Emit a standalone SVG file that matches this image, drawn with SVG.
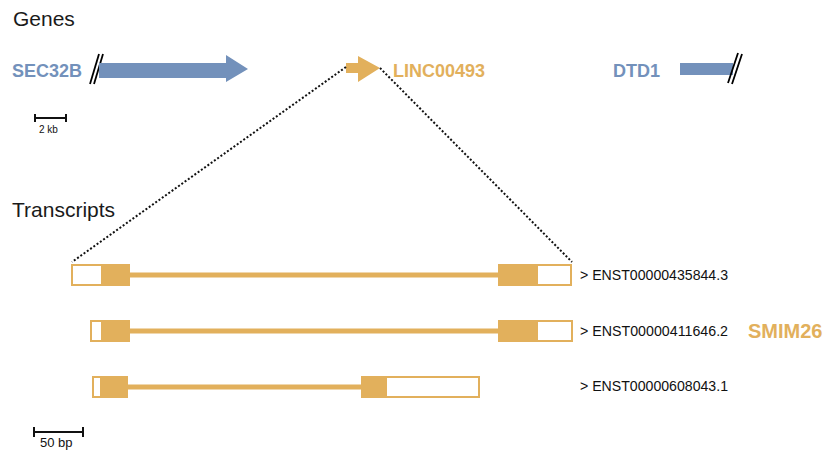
<svg xmlns="http://www.w3.org/2000/svg" width="823" height="450" viewBox="0 0 823 450">
<style>
.hdr{font-family:"Liberation Sans",Arial,sans-serif;font-size:21px;fill:#1a1a1a}
.gb{font-family:"Liberation Sans",Arial,sans-serif;font-weight:bold;font-size:18px;fill:#7391bb}
.gg{font-family:"Liberation Sans",Arial,sans-serif;font-weight:bold;font-size:18px;fill:#e2b05c}
.lbl{font-family:"Liberation Sans",Arial,sans-serif;font-size:14px;fill:#111}
.sc{font-family:"Liberation Sans",Arial,sans-serif;font-size:10px;fill:#111}
.blue{fill:#7391bb}
.gold{fill:#e2b05c}
.utr{fill:#fff;stroke:#e2b05c;stroke-width:2}
.intron{stroke:#e2b05c;stroke-width:5}
.slash{stroke:#000;stroke-width:1.8}
.dot{fill:none;stroke:#111;stroke-width:2;stroke-dasharray:2 2}
.bar{stroke:#111;stroke-width:2;fill:none}
</style>
<text class="hdr" x="13" y="26">Genes</text>
<text class="hdr" x="12" y="217">Transcripts</text>
<g id="sec32b">
<text class="gb" x="12" y="77">SEC32B</text>
<line class="slash" x1="90" y1="84" x2="99" y2="54"/>
<line class="slash" x1="94" y1="84" x2="103" y2="54"/>
<polygon class="blue" points="99,63 226,63 226,55 248,69 226,82 226,78 99,78"/>
</g>
<g id="linc00493">
<polygon class="gold" points="346,63 358,63 358,56 380,68 358,82 358,73 346,73"/>
<text class="gg" x="393" y="77">LINC00493</text>
</g>
<g id="dtd1">
<text class="gb" x="613" y="77">DTD1</text>
<rect class="blue" x="680" y="63" width="53" height="12"/>
<line class="slash" x1="728" y1="83" x2="738" y2="53"/>
<line class="slash" x1="732" y1="84" x2="742" y2="54"/>
</g>
<g id="scale-2kb">
<path class="bar" d="M35,118 H66 M35,114 V122 M66,114 V122"/>
<text class="sc" x="39" y="133">2 kb</text>
</g>
<g id="connectors">
<line class="dot" x1="346" y1="67" x2="72" y2="262"/>
<line class="dot" x1="380" y1="68" x2="572" y2="262"/>
</g>
<g id="tx1">
<line class="intron" x1="129" y1="275" x2="498" y2="275"/>
<rect class="utr" x="72" y="265" width="30" height="20"/>
<rect class="gold" x="101" y="264" width="29" height="22"/>
<rect class="gold" x="498" y="264" width="40" height="22"/>
<rect class="utr" x="537" y="265" width="34" height="20"/>
<text class="lbl" x="580" y="280" textLength="148" lengthAdjust="spacingAndGlyphs">&gt; ENST00000435844.3</text>
</g>
<g id="tx2">
<line class="intron" x1="129" y1="331" x2="498" y2="331"/>
<rect class="utr" x="91" y="321" width="11" height="20"/>
<rect class="gold" x="101" y="320" width="29" height="22"/>
<rect class="gold" x="498" y="320" width="40" height="22"/>
<rect class="utr" x="537" y="321" width="35" height="20"/>
<text class="lbl" x="580" y="336" textLength="148" lengthAdjust="spacingAndGlyphs">&gt; ENST00000411646.2</text>
<text class="gg" x="748" y="338" style="font-size:20px">SMIM26</text>
</g>
<g id="tx3">
<line class="intron" x1="128" y1="387" x2="361" y2="387"/>
<rect class="utr" x="93" y="377" width="8" height="20"/>
<rect class="gold" x="100" y="376" width="28" height="22"/>
<rect class="gold" x="361" y="376" width="26" height="22"/>
<rect class="utr" x="386" y="377" width="93" height="20"/>
<text class="lbl" x="580" y="391" textLength="148" lengthAdjust="spacingAndGlyphs">&gt; ENST00000608043.1</text>
</g>
<g id="scale-50bp">
<path class="bar" d="M34,432 H83 M34,427 V437 M83,427 V437"/>
<text class="lbl" x="40" y="447" style="font-size:13px">50 bp</text>
</g>
</svg>
